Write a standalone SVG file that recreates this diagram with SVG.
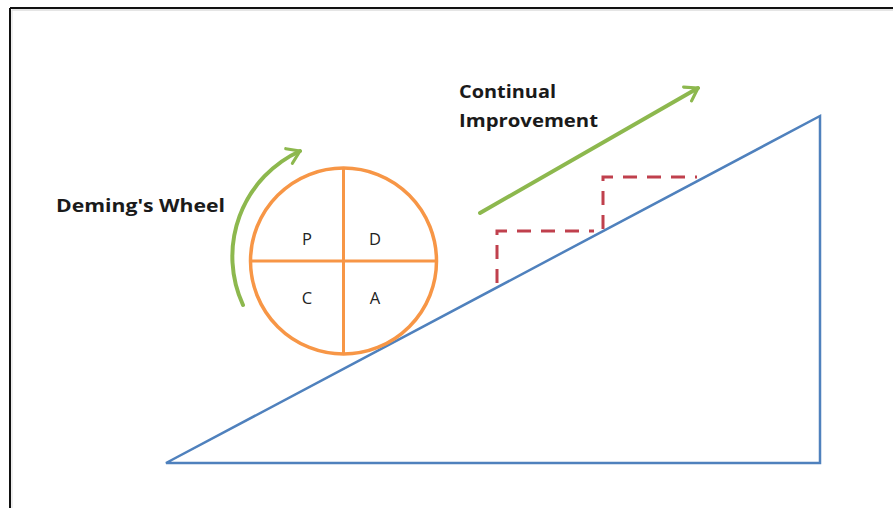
<svg xmlns="http://www.w3.org/2000/svg" width="893" height="508" viewBox="0 0 893 508">
<style>
.lbl{font-family:"Open Sans","Liberation Sans",sans-serif;font-weight:bold;font-size:17px;fill:#1a1a1a}
.q{font-family:"Open Sans","Liberation Sans",sans-serif;font-size:16.5px;fill:#222;text-anchor:middle}
.green{fill:none;stroke:#8DB84E;stroke-width:4;stroke-linecap:round}
</style>
<defs>
<marker id="ah" viewBox="0 0 10 10" refX="7" refY="5" markerWidth="5" markerHeight="5" markerUnits="strokeWidth" orient="auto">
<polyline points="1,1 7,5 1,9" fill="none" stroke="#8DB84E" stroke-width="1.6" stroke-linecap="round" stroke-linejoin="round"/>
</marker>
</defs>
<rect width="893" height="508" fill="#fff"/>
<g id="frame">
<line x1="10" y1="8" x2="893" y2="8" stroke="#111" stroke-width="2"/>
<line x1="10" y1="8" x2="10" y2="508" stroke="#111" stroke-width="2"/>
<line x1="12" y1="10" x2="893" y2="10" stroke="#ccc" stroke-width="1"/>
<line x1="12" y1="10" x2="12" y2="508" stroke="#ddd" stroke-width="1"/>
</g>
<g id="slope">
<polygon points="166,463 820,463 820,116" fill="none" stroke="#4F81BD" stroke-width="2.5" stroke-linejoin="miter"/>
</g>
<g id="steps">
<polyline points="497,283 497,231 594,231" fill="none" stroke="#C0404D" stroke-width="3" stroke-dasharray="14,10"/>
<polyline points="603,229 603,177 697,177" fill="none" stroke="#C0404D" stroke-width="3" stroke-dasharray="14,10"/>
</g>
<g id="wheel">
<circle cx="343.5" cy="261" r="93" fill="none" stroke="#F79646" stroke-width="3.5"/>
<line x1="343.5" y1="168" x2="343.5" y2="354" stroke="#F79646" stroke-width="3"/>
<line x1="250.5" y1="261" x2="436.5" y2="261" stroke="#F79646" stroke-width="3"/>
<text class="q" x="307" y="245">P</text>
<text class="q" x="375" y="245">D</text>
<text class="q" x="307" y="304">C</text>
<text class="q" x="375" y="304">A</text>
</g>
<g id="connectors">
<path class="green" d="M243,305 A116 116 0 0 1 300,151" marker-end="url(#ah)"/>
<line class="green" x1="480" y1="213" x2="698" y2="88" marker-end="url(#ah)"/>
</g>
<g id="labels">
<text class="lbl" x="56" y="212" textLength="169" lengthAdjust="spacingAndGlyphs">Deming's Wheel</text>
<text class="lbl" x="459" y="98" textLength="97" lengthAdjust="spacingAndGlyphs">Continual</text>
<text class="lbl" x="459" y="127" textLength="139" lengthAdjust="spacingAndGlyphs">Improvement</text>
</g>
</svg>
